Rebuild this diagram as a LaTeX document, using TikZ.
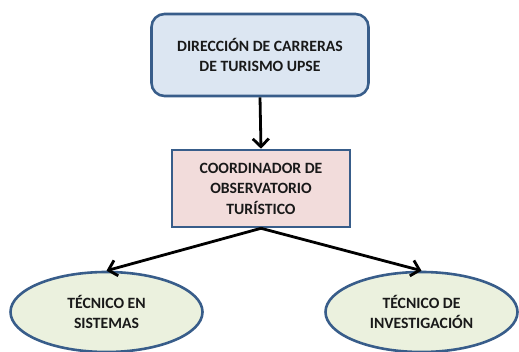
\documentclass[tikz,border=0pt]{standalone}
\usepackage{fontspec}
\setmainfont{Carlito}
\usepackage{tikz}
\usetikzlibrary{arrows.meta,shapes.geometric}
\definecolor{borde}{HTML}{385D8A}
\definecolor{azulclaro}{HTML}{DCE6F2}
\definecolor{rosa}{HTML}{F2DCDB}
\definecolor{verdeclaro}{HTML}{EBF1DE}

\begin{document}
\begin{tikzpicture}[x=1pt,y=-1pt,
	texto/.style={align=center,font=\fontsize{15.7}{20.5}\selectfont\bfseries,text=black!90,draw=borde,line width=2.6pt,inner sep=0pt},
	flecha/.style={line width=2.8pt,-{Straight Barb[length=8pt,width=16pt]}}]
				\useasboundingbox (0,0) rectangle (519,352);
				\node (direccion) at (260,55) [texto, fill=azulclaro, rounded corners=13pt, minimum width=217pt, minimum height=82pt] {DIRECCIÓN DE CARRERAS\\DE TURISMO UPSE};
				\node (coordinador) at (261,188.5) [texto, fill=rosa, minimum width=178pt, minimum height=77pt] {COORDINADOR DE\\OBSERVATORIO\\TURÍSTICO};
				\node (sistemas) at (106.5,312) [texto, ellipse, fill=verdeclaro, minimum width=192pt, minimum height=80pt] {TÉCNICO EN\\SISTEMAS};
				\node (investigacion) at (421.5,312) [texto, ellipse, fill=verdeclaro, minimum width=192pt, minimum height=80pt] {TÉCNICO DE\\INVESTIGACIÓN};
				\draw [flecha] (direccion.south) -- (coordinador.north);
				\draw [flecha] (coordinador.south) -- (sistemas.north);
				\draw [flecha] (coordinador.south) -- (investigacion.north);
\end{tikzpicture}
\end{document}
